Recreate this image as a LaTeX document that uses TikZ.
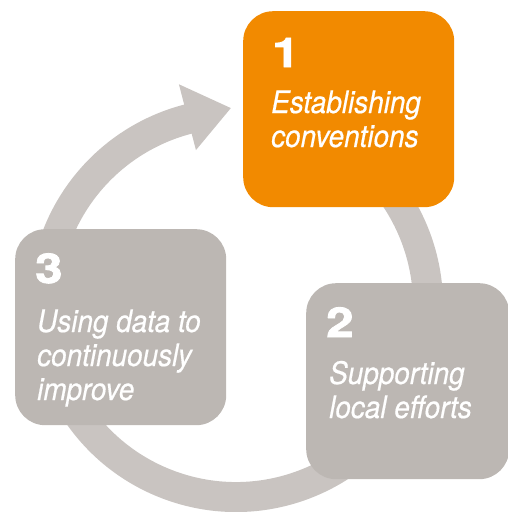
\documentclass[tikz,border=0pt]{standalone}
\usepackage{fontspec}
\setmainfont{TeX Gyre Heros}[FakeStretch=0.9, FakeBold=0.5]
\newfontfamily\numfont{TeX Gyre Heros}[FakeStretch=1.2, FakeBold=2]
\usetikzlibrary{calc}
\definecolor{ringgray}{HTML}{C9C4C1}
\definecolor{boxgray}{HTML}{BCB7B3}
\definecolor{steporange}{HTML}{F28A00}

\begin{document}
\begin{tikzpicture}[x=1pt, y=-1pt,
    stagebox/.style={rounded corners=30pt, minimum width=211pt, minimum height=196pt, anchor=north west, inner sep=0pt},
    stagenum/.style={anchor=base west, inner sep=0pt, text=white, font=\numfont\bfseries\fontsize{41}{41}\selectfont},
    stagetext/.style={anchor=base west, inner sep=0pt, text=white, align=left, font=\itshape\fontsize{31}{34}\selectfont}]
    \useasboundingbox (0,0) rectangle (508,512);
    \clip (0,0) rectangle (508,512);

    % Cycle ring with arrow head
    \coordinate (c) at (236,305);
    \draw[ringgray, line width=30pt] ($(c)+(-70:192)$) arc[start angle=-70, end angle=257, radius=192];
    \fill[ringgray] ($(c)+(255.5:228)$) -- ($(c)+(268.5:197)$) -- ($(c)+(255.5:160)$) -- cycle;

    % Boxes
    \node[stagebox, fill=steporange] (box1) at (243,11) {};
    \node[stagebox, fill=boxgray, minimum width=203pt] (box2) at (306,283) {};
    \node[stagebox, fill=boxgray] (box3) at (15,229) {};

    % Labels (text nodes sit on their last line)
    \node[stagenum] (num1) at (272,67) {1};
    \node[stagetext] (text1) at (271,147) {Establishing\\conventions};
    \node[stagenum] (num2) at (326,337) {2};
    \node[stagetext] (text2) at (329,418) {Supporting\\local efforts};
    \node[stagenum] (num3) at (35,283) {3};
    \node[stagetext] (text3) at (37,400) {Using data to\\continuously\\improve};
\end{tikzpicture}
\end{document}
